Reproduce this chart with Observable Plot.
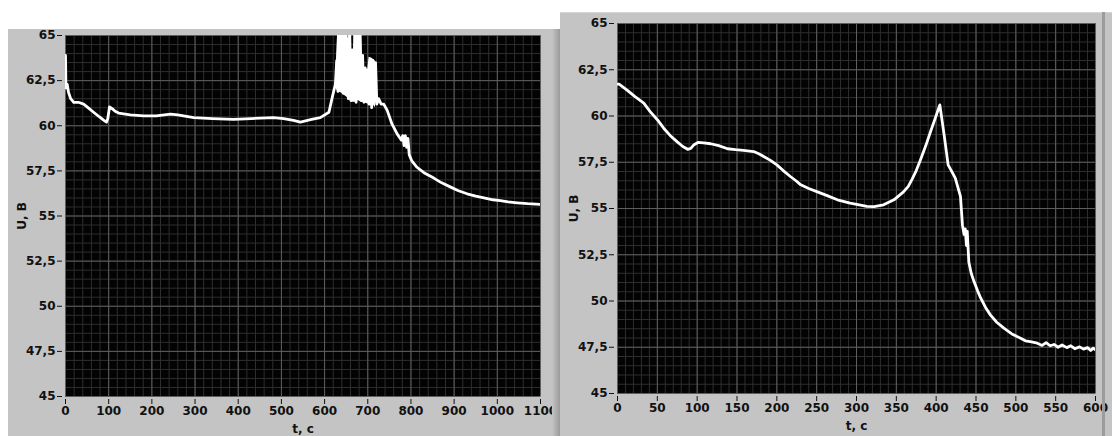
<!DOCTYPE html>
<html>
<head>
<meta charset="utf-8">
<script src="https://cdn.jsdelivr.net/npm/d3@7"></script>
<script src="https://cdn.jsdelivr.net/npm/@observablehq/plot@0.6"></script>
<style>
  html, body { margin: 0; padding: 0; background: #ffffff; }
  #root { position: relative; width: 1112px; height: 436px; overflow: hidden; background: #ffffff; }
  .panel { position: absolute; background: #c4c4c4; }
  .panel svg { position: absolute; left: 0; top: 0; }
  .strip { position: absolute; }
</style>
</head>
<body>
<div id="root">
  <div class="panel" id="leftPanel" style="left:8px;top:29px;width:552px;height:407px;"></div>
  <div class="strip" style="left:552px;top:29px;width:8px;height:407px;background:linear-gradient(to right,#c4c4c4,#9a9a9a);"></div>
  <div class="panel" id="rightPanel" style="left:560px;top:12px;width:552px;height:424px;border-top:1px solid #d6d6d6;box-sizing:border-box;"></div>
  <div class="strip" style="left:1102px;top:12px;width:3px;height:424px;background:#9c9c9c;"></div>
</div>
<script>
// ---- Left chart data: time t (c), voltage U (B)
const leftT = [0, 1, 4, 7, 12, 19, 30, 42, 55, 65, 78, 89, 95, 98, 102, 108, 115, 123, 150, 181, 210, 243, 260, 297, 340, 389, 430, 482, 505, 528, 544, 570, 590, 610, 618, 625,
  628, 631, 634, 637, 640, 643, 646, 649, 652, 655, 658, 661, 664, 667, 670, 673, 676, 679, 682, 685, 688, 691, 694, 697, 700, 703, 706, 709, 712, 715, 718, 721,
  725, 731, 737, 745, 756, 768, 778, 781, 784, 787, 790, 793, 796, 802, 814, 830, 853, 870, 892, 910, 930, 950, 969, 990, 1007, 1025, 1046, 1070, 1100];
const leftU = [63.9, 62.1, 62.3, 61.85, 61.5, 61.3, 61.3, 61.2, 60.95, 60.75, 60.5, 60.3, 60.2, 60.4, 61.05, 60.95, 60.8, 60.7, 60.6, 60.55, 60.55, 60.65, 60.6, 60.45, 60.4, 60.35, 60.4, 60.45, 60.4, 60.3, 60.2, 60.35, 60.45, 60.75, 61.6, 62.3,
  63.6, 61.9, 65.5, 62.3, 64.9, 61.8, 65.5, 62.1, 64.6, 61.5, 65.5, 61.4, 64.2, 61.6, 65.5, 61.3, 64.8, 62.0, 65.5, 61.4, 63.9, 61.3, 63.2, 61.8, 63.1, 61.2, 63.7, 61.0, 63.6, 61.4, 63.5, 61.2,
  61.5, 61.2, 61.2, 60.85, 60.1, 59.55, 59.2, 59.45, 58.9, 59.45, 58.8, 59.3, 58.4, 58.05, 57.7, 57.4, 57.1, 56.85, 56.6, 56.4, 56.23, 56.1, 56.0, 55.9, 55.85, 55.78, 55.73, 55.68, 55.64];

// ---- Left chart: envelope of the dense oscillation (t ≈ 626–721 c)
const noiseT  = [626, 628, 631, 640, 650, 657, 662, 668, 671, 678, 685, 688, 700, 703, 712, 717, 721];
const noiseLo = [62.4, 62.0, 61.9, 61.8, 61.6, 61.5, 61.3, 61.3, 61.3, 61.4, 61.3, 61.3, 61.2, 61.2, 61.2, 61.0, 61.4];
const noiseHi = [62.6, 64.0, 65.5, 65.5, 65.5, 64.6, 63.5, 63.4, 65.5, 65.5, 65.5, 63.2, 63.1, 63.8, 63.7, 63.6, 62.2];

// ---- Right chart data
const rightT = [0, 2, 12, 22, 33, 41, 50, 58, 66, 75, 82, 88, 92, 96, 101, 108, 117, 127, 138, 148, 158, 171, 178, 184, 192, 200, 208, 217, 224, 230, 240, 251, 264, 276, 292, 305, 313, 322, 334, 347, 359, 365, 370, 375, 380, 387, 393, 399, 404.6,
  410, 415, 419, 424, 430.5, 433, 435, 436.5, 438, 439, 441, 444, 447.5, 452, 456, 462, 468, 476, 485, 495, 506, 512, 518, 527, 533, 538, 543, 548, 553, 558, 564, 569, 574, 580, 585, 590, 594, 597, 600];
const rightU = [61.72, 61.72, 61.4, 61.05, 60.7, 60.24, 59.8, 59.34, 58.95, 58.6, 58.35, 58.2, 58.25, 58.45, 58.57, 58.55, 58.5, 58.4, 58.23, 58.18, 58.14, 58.08, 57.95, 57.8, 57.6, 57.36, 57.05, 56.73, 56.5, 56.28, 56.08, 55.9, 55.68, 55.47, 55.29, 55.18, 55.12, 55.1, 55.2, 55.47, 55.9, 56.2, 56.6, 57.05, 57.6, 58.4, 59.16, 59.9, 60.6,
  58.98, 57.36, 57.05, 56.64, 55.65, 54.1, 53.6, 53.9, 53.0, 53.76, 52.1, 51.5, 51.05, 50.55, 50.15, 49.65, 49.25, 48.85, 48.53, 48.22, 47.99, 47.85, 47.8, 47.72, 47.6, 47.75, 47.58, 47.65, 47.5, 47.62, 47.48, 47.58, 47.42, 47.52, 47.4, 47.48, 47.32, 47.45, 47.36];

// ---- Tick values
const yTicks = [45, 47.5, 50, 52.5, 55, 57.5, 60, 62.5, 65];
const leftXTicks = [0, 100, 200, 300, 400, 500, 600, 700, 800, 900, 1000, 1100];
const rightXTicks = [0, 50, 100, 150, 200, 250, 300, 350, 400, 450, 500, 550, 600];
const yMinor = d3.range(45, 65.001, 0.5);
const leftXMinor = d3.range(0, 1100.1, 20);
const rightXMinor = d3.range(0, 600.1, 10);
const xLabel = "t, c";
const yLabel = "U, B";

const fmt = d => String(d).replace(".", ",");

function makeChart({t, u, band, xMax, xTicks, xMinor, width, height, ml, mr, mt, mb}) {
  const data = t.map((v, i) => ({t: v, u: u[i]}));
  const bandData = band ? band.t.map((v, i) => ({t: v, lo: band.lo[i], hi: band.hi[i]})) : [];
  return Plot.plot({
    width, height,
    marginLeft: ml, marginRight: mr, marginTop: mt, marginBottom: mb,
    style: {fontFamily: "'DejaVu Sans', sans-serif", fontSize: "12px", fontWeight: "bold", color: "#111", background: "transparent", overflow: "visible"},
    x: {domain: [0, xMax]},
    y: {domain: [45, 65]},
    marks: [
      Plot.frame({fill: "#030303"}),
      Plot.ruleX(xMinor, {stroke: "#2e2e2e", strokeWidth: 1}),
      Plot.ruleY(yMinor, {stroke: "#2e2e2e", strokeWidth: 1}),
      Plot.ruleX(xTicks, {stroke: "#5e5e5e", strokeWidth: 1}),
      Plot.ruleY(yTicks, {stroke: "#5e5e5e", strokeWidth: 1}),
      Plot.areaY(bandData, {x: "t", y1: "lo", y2: "hi", fill: "#ffffff", clip: true}),
      Plot.line(data, {x: "t", y: "u", stroke: "#ffffff", strokeWidth: 2.8, clip: true, strokeLinejoin: "round"}),
      Plot.axisX(xTicks, {tickSize: 5, tickPadding: 2, dy: 3, tickFormat: d => String(d), label: xLabel, labelAnchor: "center", labelOffset: 36, labelArrow: "none"}),
      Plot.axisY(yTicks, {tickSize: 5, tickPadding: 2, dx: -3, tickFormat: fmt, label: yLabel, labelAnchor: "center", labelOffset: 48, labelArrow: "none"})
    ]
  });
}

document.getElementById("leftPanel").appendChild(makeChart({
  t: leftT, u: leftU, band: {t: noiseT, lo: noiseLo, hi: noiseHi}, xMax: 1100, xTicks: leftXTicks, xMinor: leftXMinor,
  width: 552, height: 407, ml: 57, mr: 20, mt: 6, mb: 40
}));
document.getElementById("rightPanel").appendChild(makeChart({
  t: rightT, u: rightU, xMax: 600, xTicks: rightXTicks, xMinor: rightXMinor,
  width: 552, height: 424, ml: 57, mr: 17, mt: 10, mb: 44
}));
</script>
</body>
</html>
